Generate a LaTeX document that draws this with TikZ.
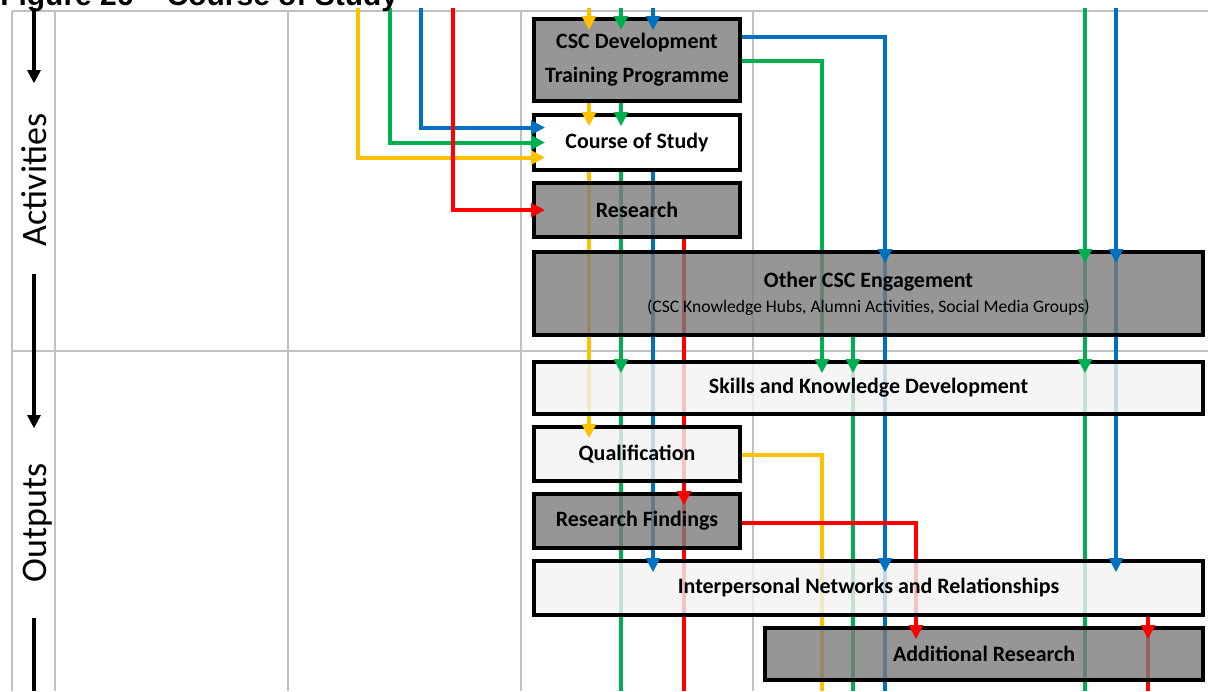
\documentclass[tikz,border=0pt]{standalone}
\usepackage{fontspec}
\usetikzlibrary{positioning,calc,arrows.meta,backgrounds}

\newfontfamily\titlefont{Liberation Sans}
\newfontfamily\boxfont{Carlito}

\definecolor{cscYellow}{HTML}{FFC000}
\definecolor{cscGreen}{HTML}{00B050}
\definecolor{cscBlue}{HTML}{0070C0}
\definecolor{cscRed}{HTML}{FF0000}
\definecolor{gridGray}{HTML}{C0C0C0}
\definecolor{boxDark}{HTML}{7C7C7C}
\definecolor{boxLight}{HTML}{F2F2F2}

\tikzset{
  gridline/.style={draw=gridGray, line width=2.1pt},
  flow/.style={line width=2.8pt},
  tip/.style={line width=2.8pt, -{Triangle[length=0.35cm,width=0.34cm]}, shorten >=-0.33cm},
  axisline/.style={line width=2.3pt},
  axisarrow/.style={line width=2.3pt, -{Triangle[length=0.33cm,width=0.32cm]}},
  box/.style={draw, line width=3pt, inner sep=0pt, fill opacity=0.8, text opacity=1,
    align=center, font=\boxfont\bfseries\fontsize{15.6}{24}\selectfont},
  darkbox/.style={box, fill=boxDark},
  lightbox/.style={box, fill=boxLight},
  stage/.style={rotate=90, anchor=base, inner sep=0pt, font=\boxfont\fontsize{25.6}{30}\selectfont}
}

\begin{document}
\begin{tikzpicture}[x=0.025cm, y=-0.025cm]
                \useasboundingbox (0,0) rectangle (1208,691);

                % Title (cut off at the top)
                \node[anchor=base west, inner sep=0pt, font=\titlefont\bfseries\fontsize{21.3}{24}\selectfont] (title) at (0,5) {Figure 26 – Course of Study};

                % Stage labels
                \node[stage] (act) at (46,180) {Activities};
                \node[stage] (outp) at (46,523) {Outputs};

                % Boxes
                \node[darkbox, minimum width=5.15cm, minimum height=2.045cm] (dev) at (637,60) {CSC Development\\Training Programme};
                \node[lightbox, fill=white, minimum width=5.15cm, minimum height=1.37cm, below=0.25cm of dev] (course) {Course of Study};
                \node[darkbox, minimum width=5.15cm, minimum height=1.345cm, below=0.225cm of course] (res) {Research};
                \node[darkbox, minimum width=16.725cm, minimum height=2.07cm] (other) at (868.5,293.5) {Other CSC Engagement\\[-6pt]{\mdseries\fontsize{12.5}{15}\selectfont(CSC Knowledge Hubs, Alumni Activities, Social Media Groups)}};
                \node[lightbox, minimum width=16.725cm, minimum height=1.295cm] (skills) at (868.5,388) {Skills and Knowledge Development};
                \node[lightbox, minimum width=5.15cm, minimum height=1.345cm] (qual) at (637,454) {Qualification};
                \node[darkbox, minimum width=5.15cm, minimum height=1.345cm, below=0.225cm of qual] (find) {Research Findings};
                \node[lightbox, minimum width=16.725cm, minimum height=1.345cm] (inter) at (868.5,588) {Interpersonal Networks and Relationships};
                \node[darkbox, minimum width=10.95cm, minimum height=1.295cm] (addl) at (984,654) {Additional Research};

                \begin{scope}[on background layer]
                % Grid
                \draw[gridline] (12,11) -- (1208,11);
                \draw[gridline] (12,351) -- (1208,351);
                \draw[gridline] (12,11) -- (12,691);
                \draw[gridline] (55,11) -- (55,691);
                \draw[gridline] (288,11) -- (288,691);
                \draw[gridline] (521,11) -- (521,691);
                \draw[gridline] (753,11) -- (753,691);

                % Yellow
                \draw[flow, cscYellow] (358,8) |- ($(course.west)+(0,15)$);
                \draw[flow, cscYellow] (589,8) -- (589,0 |- dev.north);
                \draw[flow, cscYellow] (589,0 |- dev.south) -- (589,0 |- course.north);
                \draw[flow, cscYellow] (589,0 |- course.south) -- (589,0 |- qual.north);
                \draw[flow, cscYellow] ($(qual.east)+(0,1)$) -| (822,691);
                % Green
                \draw[flow, cscGreen] (390,8) |- (course.west);
                \draw[flow, cscGreen] (621,8) -- (621,0 |- dev.north);
                \draw[flow, cscGreen] (621,0 |- dev.south) -- (621,0 |- course.north);
                \draw[flow, cscGreen] (621,0 |- course.south) -- (621,691);
                \draw[flow, cscGreen] ($(dev.east)+(0,1)$) -| (822,0 |- skills.north);
                \draw[flow, cscGreen] (853,0 |- other.south) -- (853,691);
                \draw[flow, cscGreen] (1085,8) -- (1085,691);
                % Blue
                \draw[flow, cscBlue] (421,8) |- ($(course.west)+(0,-15)$);
                \draw[flow, cscBlue] (653,8) -- (653,0 |- dev.north);
                \draw[flow, cscBlue] (653,0 |- course.south) -- (653,0 |- inter.north);
                \draw[flow, cscBlue] ($(dev.east)+(0,-23)$) -| (885,691);
                \draw[flow, cscBlue] (1116,8) -- (1116,0 |- inter.north);
                % Red
                \draw[flow, cscRed] (453,8) |- (res.west);
                \draw[flow, cscRed] (684,0 |- res.south) -- (684,691);
                \draw[flow, cscRed] ($(find.east)+(0,2)$) -| (916,0 |- addl.north);
                \draw[flow, cscRed] (1148,0 |- inter.south) -- (1148,691);
                \end{scope}

                % Stage arrows
                \draw[axisarrow, shorten >=0.75cm] (34,8) -- (34,0 |- act.east);
                \draw[axisarrow, shorten <=0.68cm, shorten >=0.875cm] (34,0 |- act.west) -- (34,0 |- outp.east);
                \draw[axisline, shorten <=0.875cm] (34,0 |- outp.west) -- (34,691);

                % Arrow tips into the boxes
                \draw[tip, cscYellow] (589,8) -- (589,0 |- dev.north);
                \draw[tip, cscGreen] (621,8) -- (621,0 |- dev.north);
                \draw[tip, cscBlue] (653,8) -- (653,0 |- dev.north);
                \draw[tip, cscYellow] (589,0 |- dev.south) -- (589,0 |- course.north);
                \draw[tip, cscGreen] (621,0 |- dev.south) -- (621,0 |- course.north);
                \draw[tip, cscBlue] ($(course.west)+(-20,-15)$) -- ($(course.west)+(0,-15)$);
                \draw[tip, cscGreen] ($(course.west)+(-20,0)$) -- (course.west);
                \draw[tip, cscYellow] ($(course.west)+(-20,15)$) -- ($(course.west)+(0,15)$);
                \draw[tip, cscRed] ($(res.west)+(-20,0)$) -- (res.west);
                \draw[tip, cscBlue] (885,242) -- (885,0 |- other.north);
                \draw[tip, cscGreen] (1085,242) -- (1085,0 |- other.north);
                \draw[tip, cscBlue] (1116,242) -- (1116,0 |- other.north);
                \draw[tip, cscGreen] (621,345) -- (621,0 |- skills.north);
                \draw[tip, cscGreen] (822,345) -- (822,0 |- skills.north);
                \draw[tip, cscGreen] (853,345) -- (853,0 |- skills.north);
                \draw[tip, cscGreen] (1085,345) -- (1085,0 |- skills.north);
                \draw[tip, cscYellow] (589,419) -- (589,0 |- qual.north);
                \draw[tip, cscRed] (684,486) -- (684,0 |- find.north);
                \draw[tip, cscBlue] (653,553) -- (653,0 |- inter.north);
                \draw[tip, cscBlue] (885,553) -- (885,0 |- inter.north);
                \draw[tip, cscBlue] (1116,553) -- (1116,0 |- inter.north);
                \draw[tip, cscRed] (916,620) -- (916,0 |- addl.north);
                \draw[tip, cscRed] (1148,620) -- (1148,0 |- addl.north);
\end{tikzpicture}
\end{document}
